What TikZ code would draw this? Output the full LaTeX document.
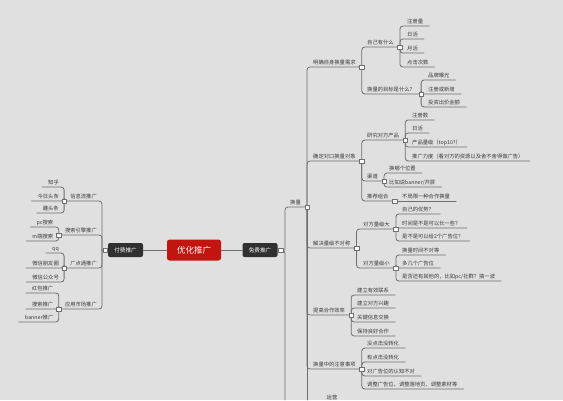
\documentclass[tikz,border=0pt]{standalone}
\usepackage{fontspec}
\setmainfont{Noto Sans CJK SC}
\usepackage{xcolor}
\usepackage{tikz}
\usetikzlibrary{positioning}
\definecolor{mmPaper}{HTML}{E0E0E0}
\definecolor{mmInk}{HTML}{3A3A3A}
\definecolor{mmLine}{HTML}{6E6E6E}
\definecolor{mmRed}{HTML}{C3150F}
\definecolor{mmDark}{HTML}{303030}
\tikzset{
  mm diagram/.style={x=1pt, y=-1pt, text=mmInk,
    line cap=round, line join=round},
  mm topic/.style={font=\fontsize{5.3}{6}\selectfont, inner xsep=0pt,
    inner ysep=1.5pt, anchor=south west},
  mm topic left/.style={mm topic, anchor=south east},
  mm branch/.style={draw=mmLine, line width=0.8pt, rounded corners=3pt},
  mm marker/.style={draw=mmLine, fill=white, line width=0.4pt, inner sep=0pt,
    minimum width=4.5pt, minimum height=3.5pt},
  mm box/.style={fill=mmDark, text=white, rounded corners=2pt, inner sep=0pt,
    font=\fontsize{5.6}{6}\selectfont, minimum width=35pt, minimum height=14pt},
  mm root/.style={mm box, fill=mmRed, font=\fontsize{8.5}{9}\selectfont,
    minimum width=54pt, minimum height=21pt, rounded corners=2.5pt}
}

\begin{document}
\begin{tikzpicture}[mm diagram]
\fill[mmPaper] (0,0) rectangle (563,400);
\useasboundingbox (0,0) rectangle (563,400);
\coordinate (bottom) at (0,400);

% centre
\node[mm root] (root) at (194,250) {优化推广};
\node[mm box] (paid) at (125.5,250) {付费推广};
\node[mm box] (free) at (260,250) {免费推广};
\draw[mm branch] (root) -- (paid);
\draw[mm branch] (root) -- (free);
\coordinate (m-paid) at ([xshift=-2.5pt]paid.west);
\coordinate (m-free) at ([xshift=3pt]free.east);

% free side
\coordinate (s-free) at (285,250);
\draw[mm branch] (free) -- (s-free) -- (s-free |- bottom);
\node[mm topic] (hl) at (290,207) {换量};
\coordinate (m-hl) at ([xshift=6pt]hl.south east);
\draw[mm branch] (s-free) |- (m-hl);
\draw[mm branch] (m-hl) -- (m-hl |- bottom);
\foreach \n/\y/\txt in {r1/67/明确自身换量需求, r2/161/确定对口换量对象,
    r3/248/解决量级不对称, r4/315/提高合作效率, r5/369/换量中的注意事项}{
  \node[mm topic] (\n) at (313,\y) {\txt};
  \coordinate (m-\n) at ([xshift=6pt]\n.south east);
  \draw[mm branch] (m-hl) |- (m-\n);
}
\node[mm topic, anchor=north] (r6) at (332,393.5) {运营};

% needs
\foreach \n/\y/\txt in {r11/47/自己有什么, r12/94/换量的目标是什么？}{
  \node[mm topic] (\n) at (367,\y) {\txt};
  \coordinate (m-\n) at ([xshift=6pt]\n.south east);
  \draw[mm branch] (m-r1) |- (m-\n);
}
\foreach \n/\y/\txt in {a1/26/注册量, a2/39/日活, a3/53/月活, a4/67/点击次数}{
  \node[mm topic] (\n) at (407,\y) {\txt};
  \draw[mm branch] (m-r11) |- ([xshift=6pt]\n.south east);
}
\foreach \n/\y/\txt in {b1/80/品牌曝光, b2/94/注册或新增, b3/107/投资出价金额}{
  \node[mm topic] (\n) at (428,\y) {\txt};
  \draw[mm branch] (m-r12) |- ([xshift=6pt]\n.south east);
}

% partners
\foreach \n/\y/\txt in {r21/140/研究对方产品, r22/181/渠道, r23/201/推荐组合}{
  \node[mm topic] (\n) at (367,\y) {\txt};
  \coordinate (m-\n) at ([xshift=6pt]\n.south east);
  \draw[mm branch] (m-r2) |- (m-\n);
}
\foreach \n/\y/\txt in {c1/120/注册数, c2/133/日活, c3/147/产品量级（top10?）,
    c4/161/推广力度（看对方的资源以及舍不舍得做广告）}{
  \node[mm topic] (\n) at (412,\y) {\txt};
  \draw[mm branch] (m-r21) |- ([xshift=6pt]\n.south east);
}
\foreach \n/\y/\txt in {d1/173/换哪个位置, d2/187/{比如说banner/开屏}}{
  \node[mm topic] (\n) at (389,\y) {\txt};
  \draw[mm branch] (m-r22) |- ([xshift=6pt]\n.south east);
}
\node[mm topic] (e1) at (402,201) {不局限一种合作换量};
\draw[mm branch] (m-r23) -- ([xshift=6pt]e1.south east);

% asymmetry
\foreach \n/\y/\txt in {r31/229/对方量级大, r32/268/对方量级小}{
  \node[mm topic] (\n) at (363,\y) {\txt};
  \coordinate (m-\n) at ([xshift=6pt]\n.south east);
  \draw[mm branch] (m-r3) |- (m-\n);
}
\foreach \n/\y/\txt in {f1/214/自己的优势？, f2/228/时间是不是可以长一些？,
    f3/241/是不是可以给2个广告位？}{
  \node[mm topic] (\n) at (402,\y) {\txt};
  \draw[mm branch] (m-r31) |- ([xshift=6pt]\n.south east);
}
\foreach \n/\y/\txt in {g1/255/换量时间不对等, g2/268/多几个广告位,
    g3/281/{是否还有其他的，比如pc/社群？搞一波}}{
  \node[mm topic] (\n) at (402,\y) {\txt};
  \draw[mm branch] (m-r32) |- ([xshift=6pt]\n.south east);
}

% efficiency, notes
\foreach \n/\y/\txt in {h1/295/建立有效联系, h2/308/建立对方兴趣, h3/322/关键信息交换,
    h4/336/保持良好合作}{
  \node[mm topic] (\n) at (357,\y) {\txt};
  \draw[mm branch] (m-r4) |- ([xshift=6pt]\n.south east);
}
\foreach \n/\y/\txt in {k1/348/没点击没转化, k2/362/有点击没转化, k3/376/对广告位的认知不对,
    k4/389/调整广告位、调整落地页、调整素材等}{
  \node[mm topic] (\n) at (367,\y) {\txt};
  \draw[mm branch] (m-r5) |- ([xshift=6pt]\n.south east);
}

% paid side
\coordinate (s-paid) at (102,250);
\draw[mm branch] (paid) -- (s-paid);
\foreach \n/\y/\txt in {l1/201/信息流推广, l2/235/搜索引擎推广, l3/268/广点通推广,
    l4/309/应用市场推广}{
  \node[mm topic left] (\n) at (97,\y) {\txt};
  \coordinate (m-\n) at ([xshift=-6pt]\n.south west);
  \draw[mm branch] (s-paid) |- (m-\n);
}
\foreach \n/\y/\txt in {p1/187/知乎, p2/201/今日头条, p3/213/趣头条}{
  \node[mm topic left] (\n) at (59,\y) {\txt};
  \draw[mm branch] (m-l1) |- ([xshift=-6pt]\n.south west);
}
\foreach \n/\y/\txt in {q1/227/pc搜索, q2/241/m端搜索}{
  \node[mm topic left] (\n) at (53.5,\y) {\txt};
  \draw[mm branch] (m-l2) |- ([xshift=-6pt]\n.south west);
}
\foreach \n/\y/\txt in {t1/253/qq, t2/268/微信朋友圈, t3/282/微信公众号}{
  \node[mm topic left] (\n) at (59,\y) {\txt};
  \draw[mm branch] (m-l3) |- ([xshift=-6pt]\n.south west);
}
\foreach \n/\y/\txt in {u1/293/红包推广, u2/309/搜索推广, u3/322/banner推广}{
  \node[mm topic left] (\n) at (53.5,\y) {\txt};
  \draw[mm branch] (m-l4) |- ([xshift=-6pt]\n.south west);
}

% collapse markers
\foreach \m in {paid,free,hl,r1,r2,r3,r4,r5,r11,r12,r21,r22,r23,r31,r32,l1,l2,l3,l4}
  \node[mm marker] (k-\m) at (m-\m) {};
\end{tikzpicture}
\end{document}
